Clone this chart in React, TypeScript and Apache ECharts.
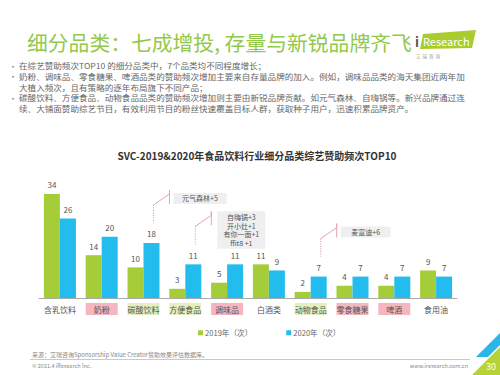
import React, { useEffect, useRef } from "react";
import * as echarts from "echarts";

const categories = ["含乳饮料", "奶粉", "碳酸饮料", "方便食品", "调味品", "白酒类", "动物食品", "零食糖果", "啤酒", "食用油"];
const labelTags = ["none", "pink", "green", "green", "pink", "none", "green", "pink", "pink", "none"];
const values2019 = [34, 14, 10, 3, 5, 11, 2, 4, 4, 9];
const values2020 = [26, 20, 18, 11, 11, 9, 7, 7, 7, 7];
const seriesNames = ["2019年（次）", "2020年（次）"];

const annotations = [
  { cat: 2, lines: ["元气森林+5"], w: 53 },
  { cat: 3, lines: ["自嗨锅+3", "开小灶+1", "有你一面+1", "ffit8 +1"], w: 48 },
  { cat: 6, lines: ["麦富迪+6"], w: 50 },
];

const titleText = "细分品类：七成增投, 存量与新锐品牌齐飞";
const bulletParas = [
  ["在综艺赞助频次TOP10 的细分品类中，7个品类均不同程度增长；"],
  ["奶粉、调味品、零食糖果、啤酒品类的赞助频次增加主要来自存量品牌的加入。例如，调味品品类的海天集团近两年加",
   "大植入频次，且有策略的逐年布局旗下不同产品；"],
  ["碳酸饮料、方便食品、动物食品品类的赞助频次增加则主要由新锐品牌贡献。如元气森林、自嗨锅等。新兴品牌通过连",
   "续、大铺面赞助综艺节目，有效利用节目的粉丝快速覆盖目标人群，获取种子用户，迅速积累品牌资产。"],
];
const chartTitle = "SVC-2019&2020年食品饮料行业细分品类综艺赞助频次TOP10";
const sourceText = "来源：艾瑞咨询Sponsorship Value Creator赞助效果评估数据库。";
const copyright = "© 2021.4 iResearch Inc.";
const website = "www.iresearch.com.cn";
const pageNo = "30";

const FONT = "'Noto Sans CJK SC', 'Noto Sans', sans-serif";
const GREEN = "#a5cd39";
const BLUE = "#22bdee";

export default function App() {
  const ref = useRef<HTMLDivElement>(null);
  useEffect(() => {
    if (!ref.current) return;
    const chart = echarts.init(ref.current, undefined, { renderer: "svg", width: 500, height: 375 });

    const paraTop = [66, 76.8, 98];
    const LH = 10.6;
    const staticGraphics: any[] = [];
    staticGraphics.push({
      type: "text", left: 27, top: 32,
      style: { text: titleText, font: `20.8px ${FONT}`, fill: "#93c94b" },
    });
    // logo
    staticGraphics.push({
      type: "polygon",
      shape: { points: [[423, 34], [476, 30], [472, 48], [420, 49]] },
      style: { fill: "#a9cd2f" },
    });
    staticGraphics.push({
      type: "text", x: 415, y: 41,
      style: { text: "i", font: `bold 13px ${FONT}`, fill: "#555", verticalAlign: "middle" },
    });
    staticGraphics.push({
      type: "text", x: 423, y: 41,
      style: { text: "Research", font: `11px ${FONT}`, fill: "#fff", verticalAlign: "middle" },
    });
    staticGraphics.push({
      type: "text", x: 416, y: 56,
      style: { text: "艾  瑞  咨  询", font: `4.5px ${FONT}`, fill: "#999", verticalAlign: "middle" },
    });
    bulletParas.forEach((lines, i) => {
      staticGraphics.push({
        type: "text", x: 9, y: paraTop[i] - LH / 2,
        style: { text: "•", font: `8px ${FONT}`, fill: "#777", verticalAlign: "top", lineHeight: LH },
      });
      staticGraphics.push({
        type: "text", x: 19, y: paraTop[i] - LH / 2, scaleX: 1.13,
        style: { text: lines.join("\n"), font: `7.6px ${FONT}`, fill: "#666", verticalAlign: "top", lineHeight: LH },
      });
    });
    staticGraphics.push({
      type: "text", x: 257, y: 155,
      style: { text: chartTitle, font: `bold 10px ${FONT}`, fill: "#333", align: "center", verticalAlign: "middle" },
    });
    staticGraphics.push({
      type: "text", x: 32, y: 354.5,
      style: { text: sourceText, font: `6px ${FONT}`, fill: "#888", verticalAlign: "middle" },
    });
    staticGraphics.push({
      type: "line", shape: { x1: 30, y1: 359.5, x2: 470, y2: 359.5 },
      style: { stroke: "#bbb", lineWidth: 0.8 },
    });
    staticGraphics.push({
      type: "text", x: 32, y: 366,
      style: { text: copyright, font: `5.5px ${FONT}`, fill: "#888", verticalAlign: "middle" },
    });
    staticGraphics.push({
      type: "text", x: 468, y: 366,
      style: { text: website, font: `5.5px ${FONT}`, fill: "#888", align: "right", verticalAlign: "middle" },
    });
    // page corner
    staticGraphics.push({
      type: "polygon", shape: { points: [[472, 375], [500, 347], [500, 375]] },
      style: { fill: "#b5d334" },
    });
    staticGraphics.push({
      type: "polygon", shape: { points: [[476, 357], [500, 333], [500, 345], [488, 357]] },
      style: { fill: "#2bb6e8" },
    });
    staticGraphics.push({
      type: "text", x: 491, y: 366,
      style: { text: pageNo, font: `9px ${FONT}`, fill: "#fff", align: "center", verticalAlign: "middle" },
    });

    const option: any = {
      animation: false,
      backgroundColor: "#fff",
      textStyle: { fontFamily: FONT },
      grid: { left: 39, right: 43, top: 175.6, bottom: 77, containLabel: false },
      legend: {
        data: seriesNames,
        left: 198, top: 329, padding: 0,
        itemWidth: 5, itemHeight: 5, itemGap: 34,
        icon: "rect",
        textStyle: { fontSize: 7.6, color: "#666", fontFamily: FONT, padding: [0, 0, 0, -3] },
      },
      xAxis: {
        type: "category",
        data: categories,
        axisLine: { lineStyle: { color: "#aaa", width: 1 } },
        axisTick: { show: false },
        axisLabel: {
          interval: 0,
          margin: 5,
          formatter: (v: string, idx: number) => `{${labelTags[idx]}|${v}}`,
          rich: {
            none: { fontSize: 8, color: "#555", width: 32, height: 12, align: "center", fontFamily: FONT },
            pink: { fontSize: 8, color: "#555", width: 32, height: 12, align: "center", backgroundColor: "#f5b7bf", fontFamily: FONT },
            green: { fontSize: 8, color: "#555", width: 32, height: 12, align: "center", backgroundColor: "#e4f0c0", fontFamily: FONT },
          },
        },
      },
      yAxis: { type: "value", min: 0, max: 40, show: false, splitLine: { show: false } },
      series: [
        {
          name: seriesNames[0], type: "bar", data: values2019, barWidth: 16, barGap: "0%",
          itemStyle: { color: GREEN },
          label: { show: true, position: "top", distance: 5, fontSize: 8, color: "#555", fontFamily: FONT },
        },
        {
          name: seriesNames[1], type: "bar", data: values2020, barWidth: 16, barGap: "0%",
          itemStyle: { color: BLUE },
          label: { show: true, position: "top", distance: 5, fontSize: 8, color: "#555", fontFamily: FONT },
        },
      ],
      graphic: staticGraphics,
    };
    chart.setOption(option);

    const annGraphics: any[] = [];
    annotations.forEach((a) => {
      const p = chart.convertToPixel({ gridIndex: 0 }, [a.cat, values2020[a.cat]]) as number[];
      const x = p[0] + 10;
      const bottom = p[1] - 20;
      const top = bottom - 18;
      const vx = x + 16;
      annGraphics.push({
        type: "line", shape: { x1: x, y1: top, x2: x, y2: bottom },
        style: { stroke: "#d98b95", lineWidth: 1, lineDash: [1, 1.5] },
      });
      annGraphics.push({
        type: "polyline", shape: { points: [[x, top], [vx, top - 11], [vx, top - 15], [vx, top - 1]] },
        style: { stroke: "#e7a3ab", lineWidth: 1, fill: "none" },
      });
      const lh = 8.6;
      const multi = a.lines.length > 1;
      const h = multi ? a.lines.length * lh + 3 : 11;
      const boxTop = multi ? top - 15 : top - 12;
      const bx = vx + 4 + (multi ? 2 : 0);
      annGraphics.push({
        type: "rect", shape: { x: bx, y: boxTop, width: a.w, height: h },
        style: { fill: "#efefef" },
      });
      annGraphics.push({
        type: "text", x: bx + a.w / 2, y: boxTop + h / 2,
        style: {
          text: a.lines.join("\n"), font: `7px ${FONT}`, fill: "#555",
          align: "center", verticalAlign: "middle", lineHeight: lh,
        },
      });
    });
    chart.setOption({ graphic: [...staticGraphics, ...annGraphics] });

    return () => chart.dispose();
  }, []);
  return <div ref={ref} style={{ position: "fixed", left: 0, top: 0, width: 500, height: 375, background: "#fff" }} />;
}
